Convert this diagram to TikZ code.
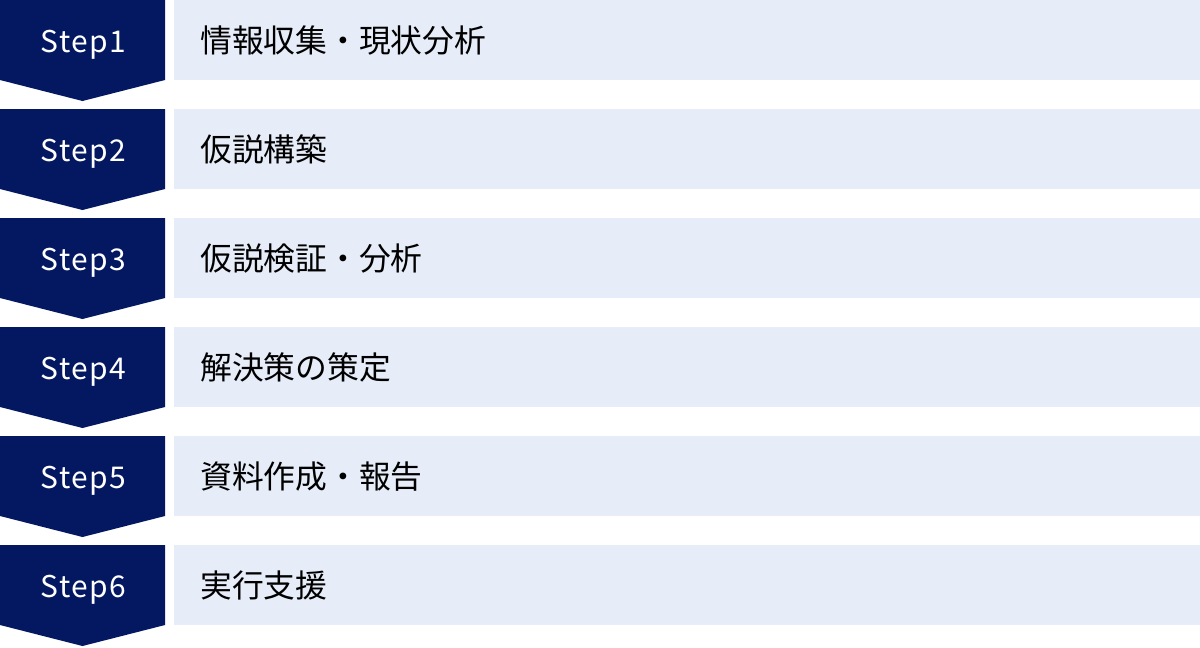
\documentclass[tikz,border=0pt]{standalone}
\usepackage{fontspec}
\setmainfont{Noto Sans CJK JP}
\newfontfamily\steplatin[LetterSpace=4.5]{Noto Sans CJK JP}
\usetikzlibrary{calc}
\definecolor{stepnavy}{HTML}{041862}
\definecolor{barblue}{HTML}{E6ECF8}
\def\stepshape(#1){\fill[stepnavy] (0, #1) -- (165, #1) -- (165, #1+80) -- (82.5, #1+101) -- (0, #1+80) -- cycle;}
\def\stepbar(#1){\fill[barblue] (174, #1) rectangle (1200, #1+80);}
\tikzset{
	steplabel/.style={anchor=base, text=white, inner sep=0pt, font=\steplatin\fontsize{21.3}{22}\selectfont},
	bartext/.style={anchor=base west, inner sep=0pt, text=black, font=\fontsize{22.6}{24}\selectfont},
}

\begin{document}
\begin{tikzpicture}[x=0.025cm, y=-0.025cm]
			%%%%% START %%%%%
			\useasboundingbox (0, 0) rectangle (1200, 647);
			
			\stepshape(0);
			\stepbar(0);
			\node[steplabel] (step1) at (83.5, 52) {Step1};
			\node[bartext] (task1) at (200, 52) {情報収集・現状分析};
			
			\stepshape(109);
			\stepbar(109);
			\node[steplabel] (step2) at (83.5, 161) {Step2};
			\node[bartext] (task2) at (200, 161) {仮説構築};
			
			\stepshape(218);
			\stepbar(218);
			\node[steplabel] (step3) at (83.5, 270) {Step3};
			\node[bartext] (task3) at (200, 270) {仮説検証・分析};
			
			\stepshape(327);
			\stepbar(327);
			\node[steplabel] (step4) at (83.5, 379) {Step4};
			\node[bartext] (task4) at (200, 379) {解決策の策定};
			
			\stepshape(436);
			\stepbar(436);
			\node[steplabel] (step5) at (83.5, 488) {Step5};
			\node[bartext] (task5) at (200, 488) {資料作成・報告};
			
			\stepshape(545);
			\stepbar(545);
			\node[steplabel] (step6) at (83.5, 597) {Step6};
			\node[bartext] (task6) at (200, 597) {実行支援};
			
			%%%%% END %%%%%
\end{tikzpicture}
\end{document}
